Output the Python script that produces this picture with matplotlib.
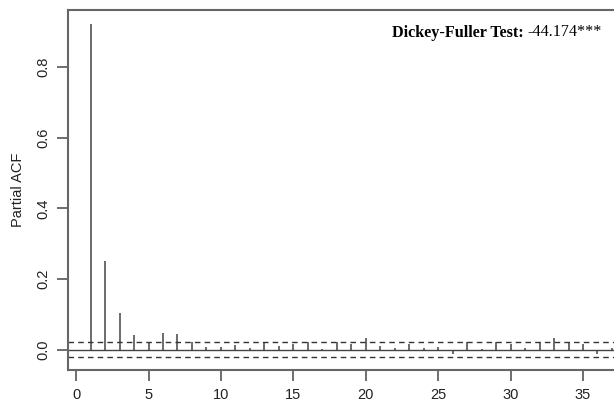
import matplotlib
matplotlib.use("Agg")
import matplotlib.pyplot as plt
import numpy as np

# partial autocorrelation by lag
lags = np.arange(1, 38)
pacf = [0.922, 0.251, 0.103, 0.041, 0.020, 0.048, 0.044, 0.020, 0.008, 0.008,
        0.014, 0.004, 0.020, 0.011, 0.017, 0.020, 0.002, 0.020, 0.017, 0.032,
        0.009, 0.003, 0.017, 0.004, 0.008, -0.014, 0.020, 0.002, 0.020, 0.017,
        0.004, 0.020, 0.032, 0.020, 0.017, -0.014, 0.004]
ci = 0.0204
xticks = [0, 5, 10, 15, 20, 25, 30, 35]
yticks = [0.0, 0.2, 0.4, 0.6, 0.8]
df_stat = "-44.174***"

plt.rcParams["font.family"] = ["Liberation Sans", "DejaVu Sans"]
GRAY = "#555555"
W, H = 614, 405

fig = plt.figure(figsize=(W / 100, H / 100), dpi=100)
# frame runs past the right edge, as in the cropped original
ax = fig.add_axes([68/W, 1 - 370/H, (678 - 68)/W, (370 - 10)/H])

ax.vlines(lags, 0, pacf, color="#444444", lw=1.1)
ax.axhline(0, color="#444444", lw=1.0)
for v in (ci, -ci):
    ax.axhline(v, color="#333333", lw=1.0, ls=(0, (4, 3)))

ax.set_xlim(-0.56, 41.56)
ax.set_ylim(-0.058, 0.962)
ax.set_xticks(xticks)
ax.set_yticks(yticks)
ax.set_yticklabels([f"{v:.1f}" for v in yticks], rotation=90, va="center")
ax.tick_params(direction="out", length=8, width=1.2, color=GRAY, labelsize=10.5,
               labelcolor="#222222", pad=5)
for s in ax.spines.values():
    s.set_color("#666666")
    s.set_linewidth(1.5)
ax.set_ylabel("Partial ACF", fontsize=10.5, color="#222222", labelpad=8)

serif = ["Liberation Serif", "DejaVu Serif"]
y_txt = H - 33
t = ax.text(392, y_txt, "Dickey-Fuller Test: ", transform=None, fontsize=11.6,
            fontweight="bold", family=serif, va="center", ha="left")
fig.canvas.draw()
bb = t.get_window_extent()
ax.text(bb.x1, y_txt + 0.5, df_stat, transform=None, fontsize=11.6,
        family=serif, va="center", ha="left")

fig.savefig("out.png", dpi=100)
